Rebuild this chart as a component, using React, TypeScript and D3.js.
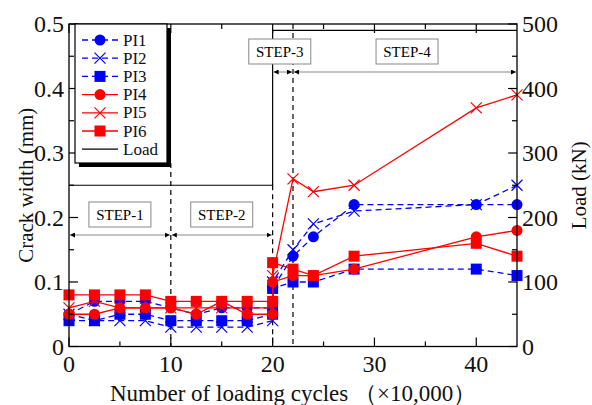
import React, { useRef, useEffect } from "react";
import * as d3 from "d3";

// loading cycles (x10,000); 20 appears twice (end of STEP-2, start of STEP-3)
const cycles = [0, 2.5, 5, 7.5, 10, 12.5, 15, 17.5, 20, 20, 22, 24, 28, 40, 44];

const pi1 = [0.05, 0.07, 0.07, 0.07, 0.06, 0.05, 0.06, 0.06, 0.06, 0.09, 0.14, 0.17, 0.22, 0.22, 0.22];
const pi2 = [0.05, 0.04, 0.04, 0.04, 0.03, 0.03, 0.03, 0.03, 0.04, 0.1, 0.15, 0.19, 0.21, 0.22, 0.25];
const pi3 = [0.04, 0.04, 0.05, 0.05, 0.04, 0.04, 0.04, 0.04, 0.05, 0.09, 0.1, 0.1, 0.12, 0.12, 0.11];
const pi4 = [0.05, 0.05, 0.06, 0.06, 0.06, 0.05, 0.07, 0.05, 0.05, 0.1, 0.11, 0.11, 0.12, 0.17, 0.18];
const pi5 = [0.06, 0.07, 0.06, 0.06, 0.06, 0.06, 0.06, 0.06, 0.06, 0.11, 0.26, 0.24, 0.25, 0.37, 0.39];
const pi6 = [0.08, 0.08, 0.08, 0.08, 0.07, 0.07, 0.07, 0.07, 0.07, 0.13, 0.12, 0.11, 0.14, 0.16, 0.14];

const loadX = [0, 20, 20, 44];
const loadY = [250, 250, 490, 490];

const steps = [
  { label: "STEP-1", from: 0, to: 10, box: 5, level: "low" },
  { label: "STEP-2", from: 10, to: 20, box: 15, level: "low" },
  { label: "STEP-3", from: 20, to: 22, box: 20.7, level: "high" },
  { label: "STEP-4", from: 22, to: 44, box: 33.2, level: "high" },
];

const series = [
  { name: "PI1", values: pi1, color: "#0000ff", dashed: true, marker: "circle" },
  { name: "PI2", values: pi2, color: "#0000ff", dashed: true, marker: "cross" },
  { name: "PI3", values: pi3, color: "#0000ff", dashed: true, marker: "square" },
  { name: "PI4", values: pi4, color: "#ff0000", dashed: false, marker: "circle" },
  { name: "PI5", values: pi5, color: "#ff0000", dashed: false, marker: "cross" },
  { name: "PI6", values: pi6, color: "#ff0000", dashed: false, marker: "square" },
];

const width = 592;
const height = 405;
const margin = { top: 24, right: 75, bottom: 58.5, left: 69 };
const font = "Liberation Serif, Times New Roman, DejaVu Serif, serif";

const drawMarker = (g, type, cx, cy, color) => {
  if (type === "circle") {
    g.append("circle").attr("cx", cx).attr("cy", cy).attr("r", 5.5).attr("fill", color);
  } else if (type === "square") {
    g.append("rect")
      .attr("x", cx - 5.5)
      .attr("y", cy - 5.5)
      .attr("width", 11)
      .attr("height", 11)
      .attr("fill", color);
  } else {
    const s = 5.5;
    g.append("path")
      .attr("d", `M${cx - s},${cy - s}L${cx + s},${cy + s}M${cx - s},${cy + s}L${cx + s},${cy - s}`)
      .attr("stroke", color)
      .attr("stroke-width", 1.2)
      .attr("fill", "none");
  }
};

const App = () => {
  const svgRef = useRef(null);

  useEffect(() => {
    const svg = d3.select(svgRef.current);
    svg.selectAll("*").remove();

    const x = d3.scaleLinear([0, 44], [margin.left, width - margin.right]);
    const y = d3.scaleLinear([0, 0.5], [height - margin.bottom, margin.top]);
    const yLoad = d3.scaleLinear([0, 500], [height - margin.bottom, margin.top]);

    const x0 = x(0);
    const x1 = x(44);
    const y0 = y(0);
    const y1 = y(0.5);

    // load line
    const loadLine = d3.line().x((d) => x(d[0])).y((d) => yLoad(d[1]));
    svg
      .append("path")
      .attr("d", loadLine(loadX.map((v, i) => [v, loadY[i]])))
      .attr("fill", "none")
      .attr("stroke", "black")
      .attr("stroke-width", 1.2);

    // dashed step separators
    const sep = [
      { at: 10, top: 163 },
      { at: 20, top: yLoad(250) },
      { at: 22, top: y1 },
    ];
    svg
      .append("g")
      .selectAll("line")
      .data(sep)
      .join("line")
      .attr("x1", (d) => x(d.at))
      .attr("x2", (d) => x(d.at))
      .attr("y1", (d) => d.top)
      .attr("y2", y0)
      .attr("stroke", "black")
      .attr("stroke-width", 1.2)
      .attr("stroke-dasharray", "5,4");

    // step annotations
    const defs = svg.append("defs");
    defs
      .append("marker")
      .attr("id", "ah")
      .attr("viewBox", "0 0 10 10")
      .attr("refX", 10)
      .attr("refY", 5)
      .attr("markerWidth", 5)
      .attr("markerHeight", 5)
      .attr("orient", "auto-start-reverse")
      .append("path")
      .attr("d", "M0,0L10,5L0,10z")
      .attr("fill", "black");

    steps.forEach((s) => {
      const ay = s.level === "low" ? 235 : 72;
      const by = s.level === "low" ? 202 : 39;
      svg
        .append("line")
        .attr("x1", x(s.from) + 1)
        .attr("x2", x(s.to) - 1)
        .attr("y1", ay)
        .attr("y2", ay)
        .attr("stroke", "#888")
        .attr("stroke-width", 1)
        .attr("marker-start", "url(#ah)")
        .attr("marker-end", "url(#ah)");
      const bw = 62;
      const cx = x(s.box);
      svg
        .append("rect")
        .attr("x", cx - bw / 2)
        .attr("y", by)
        .attr("width", bw)
        .attr("height", 25)
        .attr("fill", "white")
        .attr("stroke", "#888")
        .attr("stroke-width", 1);
      svg
        .append("text")
        .attr("x", cx)
        .attr("y", by + 18)
        .attr("text-anchor", "middle")
        .style("font-family", font)
        .style("font-size", "15px")
        .text(s.label);
    });

    // data series
    const plot = svg.append("g");
    series.forEach((s) => {
      const pts = cycles.map((c, i) => [x(c), y(s.values[i])]);
      plot
        .append("path")
        .attr("d", d3.line()(pts))
        .attr("fill", "none")
        .attr("stroke", s.color)
        .attr("stroke-width", 1.3)
        .attr("stroke-dasharray", s.dashed ? "6,4" : null);
      pts.forEach((p) => drawMarker(plot, s.marker, p[0], p[1], s.color));
    });

    // frame
    svg
      .append("rect")
      .attr("x", x0)
      .attr("y", y1)
      .attr("width", x1 - x0)
      .attr("height", y0 - y1)
      .attr("fill", "none")
      .attr("stroke", "black")
      .attr("stroke-width", 1.3);

    // ticks (inward)
    const axes = svg.append("g").attr("stroke", "black").attr("stroke-width", 1.2);
    d3.range(0, 44.1, 5).forEach((v) => {
      const len = v % 10 === 0 ? 9 : 5;
      axes.append("line").attr("x1", x(v)).attr("x2", x(v)).attr("y1", y0).attr("y2", y0 - len);
      axes.append("line").attr("x1", x(v)).attr("x2", x(v)).attr("y1", y1).attr("y2", y1 + len);
    });
    d3.range(0, 0.501, 0.05).forEach((v, i) => {
      const len = i % 2 === 0 ? 9 : 5;
      axes.append("line").attr("x1", x0).attr("x2", x0 + len).attr("y1", y(v)).attr("y2", y(v));
    });
    d3.range(0, 501, 50).forEach((v, i) => {
      const len = i % 2 === 0 ? 9 : 5;
      axes.append("line").attr("x1", x1).attr("x2", x1 - len).attr("y1", yLoad(v)).attr("y2", yLoad(v));
    });

    const labels = svg.append("g").style("font-family", font).style("font-size", "24px").attr("fill", "#111");
    labels
      .selectAll("text.xl")
      .data([0, 10, 20, 30, 40])
      .join("text")
      .attr("x", (d) => x(d))
      .attr("y", y0 + 25)
      .attr("text-anchor", "middle")
      .text((d) => d);
    labels
      .selectAll("text.yl")
      .data([0, 0.1, 0.2, 0.3, 0.4, 0.5])
      .join("text")
      .attr("x", x0 - 5)
      .attr("y", (d) => y(d) + 8)
      .attr("text-anchor", "end")
      .text((d) => (d === 0 ? "0" : d3.format(".1f")(d)));
    labels
      .selectAll("text.rl")
      .data([0, 100, 200, 300, 400, 500])
      .join("text")
      .attr("x", x1 + 5)
      .attr("y", (d) => yLoad(d) + 8)
      .attr("text-anchor", "start")
      .text((d) => d);

    svg
      .append("text")
      .attr("transform", `translate(28, ${(y0 + y1) / 2}) rotate(-90)`)
      .attr("text-anchor", "middle")
      .attr("dominant-baseline", "middle")
      .style("font-family", font)
      .style("font-size", "21px")
      .attr("fill", "#111")
      .text("Crack width (mm)");
    svg
      .append("text")
      .attr("transform", `translate(581, ${(y0 + y1) / 2}) rotate(-90)`)
      .attr("text-anchor", "middle")
      .attr("dominant-baseline", "middle")
      .style("font-family", font)
      .style("font-size", "21px")
      .attr("fill", "#111")
      .text("Load (kN)");
    svg
      .append("text")
      .attr("x", 110)
      .attr("y", 401)
      .style("font-family", font)
      .style("font-size", "23px")
      .attr("fill", "#111")
      .text("Number of loading cycles （×10,000）");

    // legend
    const lg = svg.append("g");
    lg.append("rect").attr("x", 79).attr("y", 28).attr("width", 92).attr("height", 139).attr("fill", "black");
    lg.append("rect")
      .attr("x", 75)
      .attr("y", 24)
      .attr("width", 92)
      .attr("height", 139)
      .attr("fill", "white")
      .attr("stroke", "black")
      .attr("stroke-width", 1.2);
    const entries = [...series, { name: "Load", color: "black", dashed: false, marker: null }];
    entries.forEach((e, i) => {
      const ly = 40 + i * 18.2;
      lg.append("line")
        .attr("x1", 82)
        .attr("x2", 118)
        .attr("y1", ly)
        .attr("y2", ly)
        .attr("stroke", e.color)
        .attr("stroke-width", 1.3)
        .attr("stroke-dasharray", e.dashed ? "6,4" : null);
      if (e.marker) drawMarker(lg, e.marker, 100, ly, e.color);
      lg.append("text")
        .attr("x", 123)
        .attr("y", ly)
        .attr("dominant-baseline", "central")
        .style("font-family", font)
        .style("font-size", "17px")
        .attr("fill", "#111")
        .text(e.name);
    });
  }, []);

  return (
    <svg
      ref={svgRef}
      width={width}
      height={height}
      style={{ position: "absolute", left: 0, top: 0, background: "white" }}
    />
  );
};

export default App;
